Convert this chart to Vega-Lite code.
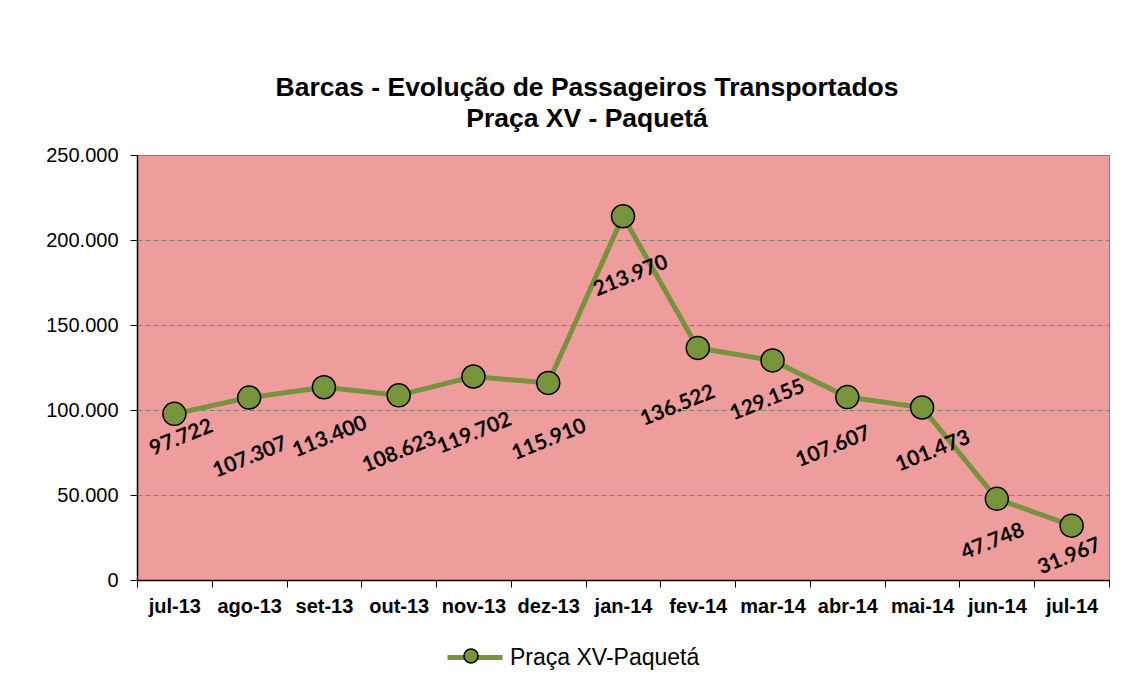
{
  "$schema": "https://vega.github.io/schema/vega-lite/v6.json",
  "width": 972,
  "height": 425,
  "autosize": "none",
  "padding": {"left": 137, "top": 155, "right": 20, "bottom": 102},
  "background": "white",
  "config": {
    "locale": {"number": {"decimal": ",", "thousands": ".", "grouping": [3], "currency": ["R$ ", ""]}},
    "view": {"fill": "#ee9c9c", "stroke": "#808080", "strokeWidth": 1},
    "font": "Liberation Sans",
    "text": {"font": "Lato", "fontWeight": "bold", "fontSize": 21, "color": "black", "angle": 338, "align": "center", "baseline": "middle"}
  },
  "title": {
    "text": ["Barcas - Evolução de Passageiros Transportados", "Praça XV - Paquetá"],
    "font": "Liberation Sans",
    "fontSize": 26.5,
    "fontWeight": "bold",
    "color": "black",
    "lineHeight": 31,
    "offset": 13,
    "dx": -36,
    "anchor": "middle"
  },
  "data": {
    "values": [
      {"month": "jul-13", "passengers": 97722, "series": "Praça XV-Paquetá"},
      {"month": "ago-13", "passengers": 107307, "series": "Praça XV-Paquetá"},
      {"month": "set-13", "passengers": 113400, "series": "Praça XV-Paquetá"},
      {"month": "out-13", "passengers": 108623, "series": "Praça XV-Paquetá"},
      {"month": "nov-13", "passengers": 119702, "series": "Praça XV-Paquetá"},
      {"month": "dez-13", "passengers": 115910, "series": "Praça XV-Paquetá"},
      {"month": "jan-14", "passengers": 213970, "series": "Praça XV-Paquetá"},
      {"month": "fev-14", "passengers": 136522, "series": "Praça XV-Paquetá"},
      {"month": "mar-14", "passengers": 129155, "series": "Praça XV-Paquetá"},
      {"month": "abr-14", "passengers": 107607, "series": "Praça XV-Paquetá"},
      {"month": "mai-14", "passengers": 101473, "series": "Praça XV-Paquetá"},
      {"month": "jun-14", "passengers": 47748, "series": "Praça XV-Paquetá"},
      {"month": "jul-14", "passengers": 31967, "series": "Praça XV-Paquetá"}
    ]
  },
  "encoding": {
    "x": {
      "field": "month",
      "type": "ordinal",
      "sort": null,
      "bandPosition": 0.5,
      "scale": {"type": "band", "paddingInner": 0, "paddingOuter": 0},
      "axis": {
        "title": null,
        "labelAngle": 0,
        "labelFont": "Liberation Sans",
        "labelFontWeight": "bold",
        "labelFontSize": 20,
        "labelColor": "black",
        "labelPadding": 9,
        "domainColor": "black",
        "domainWidth": 1.5,
        "tickColor": "black",
        "tickSize": 7,
        "tickBand": "extent",
        "grid": false
      }
    },
    "y": {
      "field": "passengers",
      "type": "quantitative",
      "scale": {"domain": [0, 250000], "nice": false},
      "axis": {
        "title": null,
        "values": [0, 50000, 100000, 150000, 200000, 250000],
        "format": ",d",
        "labelFont": "Liberation Sans",
        "labelFontSize": 20,
        "labelColor": "black",
        "labelPadding": 12,
        "domainColor": "black",
        "domainWidth": 1.5,
        "tickColor": "black",
        "tickSize": 7,
        "grid": true,
        "gridColor": "#808080",
        "gridDash": [5, 3],
        "gridWidth": 1
      }
    }
  },
  "layer": [
    {
      "mark": {"type": "line", "strokeWidth": 5},
      "encoding": {
        "color": {
          "field": "series",
          "type": "nominal",
          "scale": {"range": ["#77933C"]},
          "legend": {
            "title": null,
            "orient": "none",
            "legendX": 308,
            "legendY": 472.5,
            "padding": 0,
            "symbolType": "stroke",
            "symbolSize": 3025,
            "symbolStrokeWidth": 5,
            "labelFont": "Liberation Sans",
            "labelFontSize": 23,
            "labelColor": "black",
            "labelOffset": 5,
            "labelLimit": 400
          }
        }
      }
    },
    {
      "mark": {"type": "point", "filled": true, "size": 529, "stroke": "black", "strokeWidth": 1.5, "opacity": 1},
      "encoding": {
        "fill": {
          "datum": "pt",
          "type": "nominal",
          "scale": {"range": ["#77933C"]},
          "legend": {
            "title": null,
            "orient": "none",
            "legendX": 326,
            "legendY": 493,
            "padding": 0,
            "symbolType": "circle",
            "symbolSize": 196,
            "symbolStrokeColor": "black",
            "symbolStrokeWidth": 1.5,
            "labelExpr": "''"
          }
        }
      }
    },
    {"transform": [{"filter": "datum.month == 'jul-13'"}], "mark": {"type": "text", "dx": -2.5, "dy": 24.9}, "encoding": {"text": {"field": "passengers", "type": "quantitative", "format": ",d"}}},
    {"transform": [{"filter": "datum.month == 'ago-13'"}], "mark": {"type": "text", "dx": -21.6, "dy": 56}, "encoding": {"text": {"field": "passengers", "type": "quantitative", "format": ",d"}}},
    {"transform": [{"filter": "datum.month == 'set-13'"}], "mark": {"type": "text", "dx": -13.2, "dy": 48.6}, "encoding": {"text": {"field": "passengers", "type": "quantitative", "format": ",d"}}},
    {"transform": [{"filter": "indexof(['out-13','nov-13','dez-13'], datum.month) >= 0"}], "mark": {"type": "text", "dx": -20.5, "dy": 53.2}, "encoding": {"text": {"field": "passengers", "type": "quantitative", "format": ",d"}}},
    {"transform": [{"filter": "datum.month == 'jan-14'"}], "mark": {"type": "text", "dx": -15.1, "dy": 58.6}, "encoding": {"text": {"field": "passengers", "type": "quantitative", "format": ",d"}}},
    {"transform": [{"filter": "datum.month == 'fev-14'"}], "mark": {"type": "text", "dx": -40.3, "dy": 46.3}, "encoding": {"text": {"field": "passengers", "type": "quantitative", "format": ",d"}}},
    {"transform": [{"filter": "datum.month == 'mar-14'"}], "mark": {"type": "text", "dx": -19.6, "dy": 35.2}, "encoding": {"text": {"field": "passengers", "type": "quantitative", "format": ",d"}}},
    {"transform": [{"filter": "datum.month == 'abr-14'"}], "mark": {"type": "text", "dx": -31.7, "dy": 41.1}, "encoding": {"text": {"field": "passengers", "type": "quantitative", "format": ",d"}}},
    {"transform": [{"filter": "datum.month == 'mai-14'"}], "mark": {"type": "text", "dx": -6.3, "dy": 44.9}, "encoding": {"text": {"field": "passengers", "type": "quantitative", "format": ",d"}}},
    {"transform": [{"filter": "datum.month == 'jun-14'"}], "mark": {"type": "text", "dx": -19.8, "dy": 38.4}, "encoding": {"text": {"field": "passengers", "type": "quantitative", "format": ",d"}}},
    {"transform": [{"filter": "datum.month == 'jul-14'"}], "mark": {"type": "text", "dx": -13.5, "dy": 28}, "encoding": {"text": {"field": "passengers", "type": "quantitative", "format": ",d"}}}
  ]
}
